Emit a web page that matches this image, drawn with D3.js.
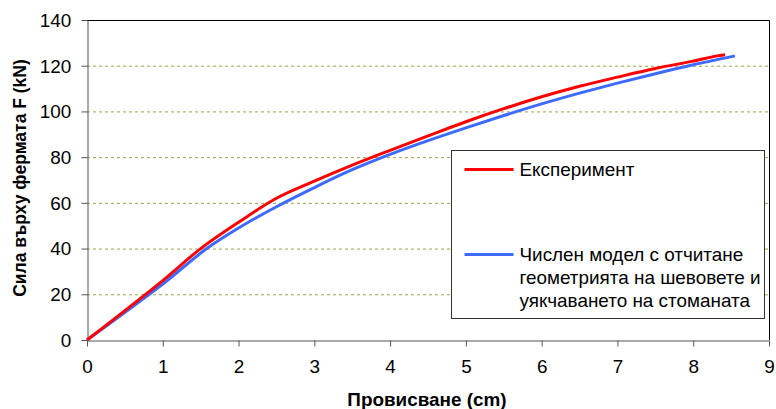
<!DOCTYPE html>
<html>
<head>
<meta charset="utf-8">
<script src="https://cdn.jsdelivr.net/npm/d3@7"></script>
<style>
  body { margin: 0; background: #fff; }
  svg { display: block; font-family: "Liberation Sans", Arial, sans-serif; }
</style>
</head>
<body>
<svg id="chart" width="776" height="409"></svg>
<script>
// deflection (cm) vs. force (kN)
const experimentX = [0, 1, 1.5, 2, 2.5, 3, 3.5, 4, 4.5, 5, 5.5, 6, 6.5, 7, 7.5, 8, 8.3, 8.42];
const experimentY = [0, 26, 40, 51.5, 62, 69.5, 76.5, 83, 89.3, 95.5, 101.2, 106.4, 111, 115, 118.8, 122, 124.2, 124.8];
const modelX = [0, 1, 1.58, 2, 2.5, 3, 3.5, 4, 4.5, 5, 5.5, 6, 6.5, 7, 7.5, 8, 8.55];
const modelY = [0, 24.5, 40, 49, 58.3, 66.7, 74.5, 81.2, 87.2, 92.8, 98.2, 103.3, 108, 112.4, 116.5, 120.4, 124.3];

const xTicks = [0, 1, 2, 3, 4, 5, 6, 7, 8, 9];
const yTicks = [0, 20, 40, 60, 80, 100, 120, 140];
const legendLabels = [
    ['Експеримент'],
    ['Числен модел с отчитане', 'геометрията на шевовете и', 'уякчаването на стоманата']
];
const xTitle = 'Провисване (cm)';
const yTitle = 'Сила върху фермата F (kN)';

const svg = d3.select('#chart');
const margin = { top: 20, right: 7, bottom: 69, left: 87 };
const width = 776, height = 409;
const fontSize = 17.5;
const stretch = 'scale(1.08,1)'; // the reference text is a bit wider than it is tall

const x = d3.scaleLinear().domain([0, 9]).range([margin.left, width - margin.right]);
const y = d3.scaleLinear().domain([0, 140]).range([height - margin.bottom, margin.top]);

// grid
svg.append('g')
    .selectAll('line')
    .data(yTicks.filter(d => d > 0 && d < 140))
    .join('line')
    .attr('x1', x(0)).attr('x2', x(9))
    .attr('y1', d => y(d) + 0.5).attr('y2', d => y(d) + 0.5)
    .attr('stroke', '#a0a048')
    .attr('stroke-width', 1)
    .attr('stroke-dasharray', '3,3');

// frame (top and right)
svg.append('path')
    .attr('d', `M${x(0)},${y(140) + 0.5}H${x(9) + 0.5}V${y(0)}`)
    .attr('fill', 'none')
    .attr('stroke', '#000')
    .attr('stroke-width', 1);

const styleAxis = g => {
    g.selectAll('path').attr('stroke', '#555');
    g.selectAll('line').attr('stroke', '#555');
    g.selectAll('text')
        .attr('font-size', fontSize).attr('fill', '#000')
        .attr('font-family', '"Liberation Sans", Arial, sans-serif')
        .attr('transform', stretch);
};

svg.append('g')
    .attr('transform', `translate(0,${y(0) + 0.5})`)
    .call(d3.axisBottom(x).tickValues(xTicks).tickFormat(d3.format('d')).tickSizeInner(6).tickSizeOuter(0).tickPadding(14))
    .call(styleAxis);

svg.append('g')
    .attr('transform', `translate(${x(0) + 0.5},0)`)
    .call(d3.axisLeft(y).tickValues(yTicks).tickFormat(d3.format('d')).tickSizeInner(6).tickSizeOuter(0).tickPadding(9))
    .call(styleAxis)
    .call(g => g.selectAll('text').attr('dy', '0.36em'));

// series
const line = d3.line().x(d => x(d[0])).y(d => y(d[1])).curve(d3.curveCatmullRom.alpha(0.5));
const modelPts = modelX.map((v, i) => [v, modelY[i]]);
const expPts = experimentX.map((v, i) => [v, experimentY[i]]);

svg.append('path').datum(modelPts)
    .attr('fill', 'none').attr('stroke', '#3d6bff').attr('stroke-width', 3).attr('d', line);
svg.append('path').datum(expPts)
    .attr('fill', 'none').attr('stroke', '#ff0000').attr('stroke-width', 3).attr('d', line);

// axis titles
svg.append('text')
    .attr('transform', `translate(${(x(0) + x(9)) / 2 - 1},406) ${stretch}`)
    .attr('text-anchor', 'middle')
    .attr('font-size', fontSize).attr('font-weight', 'bold')
    .text(xTitle);

svg.append('text')
    .attr('transform', `translate(26,${(y(0) + y(140)) / 2 - 2}) rotate(-90)`)
    .attr('text-anchor', 'middle')
    .attr('font-size', fontSize).attr('font-weight', 'bold')
    .text(yTitle);

// legend
const legend = svg.append('g').attr('transform', 'translate(451.5,150.5)');
legend.append('rect')
    .attr('width', 313).attr('height', 168)
    .attr('fill', '#fff').attr('stroke', '#333').attr('stroke-width', 1);

const legendColors = ['#ff0000', '#3d6bff'];
const legendRows = [19, 104];
legendLabels.forEach((lines, i) => {
    legend.append('line')
        .attr('x1', 13).attr('x2', 62)
        .attr('y1', legendRows[i]).attr('y2', legendRows[i])
        .attr('stroke', legendColors[i]).attr('stroke-width', 3);
    const t = legend.append('text')
        .attr('transform', `translate(68,${legendRows[i]}) ${stretch}`)
        .attr('font-size', fontSize);
    lines.forEach((s, j) => {
        t.append('tspan').attr('x', 0).attr('dy', j === 0 ? '0.36em' : 23).text(s);
    });
});
</script>
</body>
</html>
